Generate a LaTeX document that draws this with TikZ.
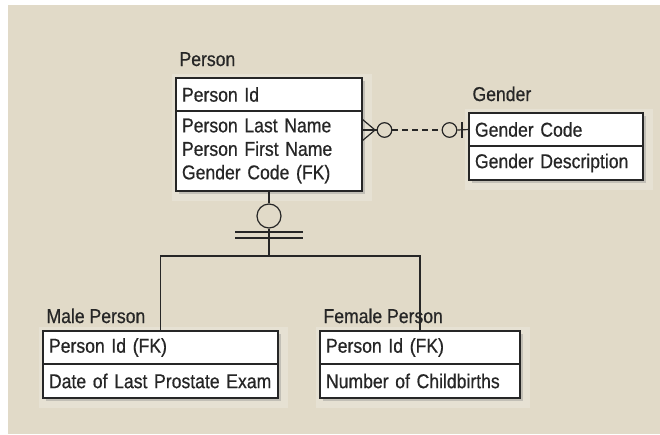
\documentclass[tikz,border=0pt]{standalone}
\usepackage{fontspec}
\setmainfont{Liberation Sans}[FakeStretch=0.88, FakeBold=0.6]
\usepackage{tikz}
\usetikzlibrary{positioning}
\usetikzlibrary{shadows}

\definecolor{paper}{HTML}{E1DAC8}
\definecolor{panel}{HTML}{E6E1D3}
\definecolor{ink}{HTML}{262626}

\begin{document}
\begin{tikzpicture}[x=1pt, y=-1pt,
    every node/.style={font=\fontsize{20}{23.5}\selectfont, text=ink},
    rowbox/.style={draw=ink, line width=1.4pt, fill=white, outer sep=0pt,
        inner xsep=6pt, inner ysep=0pt, align=left,
        drop shadow={shadow xshift=3pt, shadow yshift=-3pt, opacity=0.35}},
    keybox/.style={rowbox, minimum height=33pt, anchor=north west},
    attrbox/.style={rowbox, below=0pt of #1},
    ent/.style={anchor=base west},
    link/.style={draw=ink, line width=1.2pt},
    knob/.style={circle, draw=ink, line width=1.2pt, inner sep=0pt}]
    % background and faint panels
    \useasboundingbox (0,0) rectangle (660,434);
    \fill[paper] (8,5) rectangle (660,434);
    \fill[panel] (172,74) rectangle (372,201);
    \fill[panel] (465,109) rectangle (653,190);
    \fill[panel] (39,327) rectangle (288,408);
    \fill[panel] (316,327) rectangle (530,408);

    % entities
    \node[ent] (personlbl) at (176,66) {Person};
    \node[keybox, text width=174pt] (personkey) at (176,78) {Person Id};
    \node[attrbox=personkey, text width=174pt, minimum height=80pt] (personattr)
        {Person Last Name\\Person First Name\\Gender Code (FK)};

    \node[ent] (genderlbl) at (469,101) {Gender};
    \node[keybox, text width=162pt] (genderkey) at (469,113) {Gender Code};
    \node[attrbox=genderkey, text width=162pt, minimum height=34pt] (genderattr)
        {Gender Description};

    \node[ent] (malelbl) at (43,323) {Male Person};
    \node[keybox, text width=223pt] (malekey) at (43,331) {Person Id (FK)};
    \node[attrbox=malekey, text width=223pt, minimum height=34pt] (maleattr)
        {Date of Last Prostate Exam};

    \node[ent] (femalelbl) at (320,323) {Female Person};
    \node[keybox, text width=188pt] (femalekey) at (320,331) {Person Id (FK)};
    \node[attrbox=femalekey, text width=188pt, minimum height=34pt] (femaleattr)
        {Number of Childbirths};

    % person -- gender
    \node[knob, minimum size=14.6pt] (zeromany) at (384.5,130) {};
    \node[knob, minimum size=14.6pt] (zeroone) at (449.5,130) {};
    \coordinate (crow) at (personattr.east |- zeromany);
    \draw[link] (crow) -- (zeromany.west);
    \draw[link] ([yshift=-11pt]crow) -- (375,130) -- ([yshift=11pt]crow);
    \draw[link, dash pattern=on 6pt off 4pt] (zeromany.east) -- (zeroone.west);
    \draw[link] (zeroone.east) -- (genderkey.west);
    \draw[link] (462,122) -- (462,138);

    % subtypes
    \node[knob, minimum size=24pt] (subtype) at (269,216) {};
    \coordinate (split) at (269,256);
    \draw[link] (personattr.south) -- (subtype.north);
    \draw[link] (subtype.south) -- (split);
    \draw[link] (235,232) -- (303,232);
    \draw[link] (235,238) -- (303,238);
    \draw[link] (malekey.north) -- (malekey.north |- split)
        -- (femalekey.north |- split) -- (femalekey.north);
\end{tikzpicture}
\end{document}
